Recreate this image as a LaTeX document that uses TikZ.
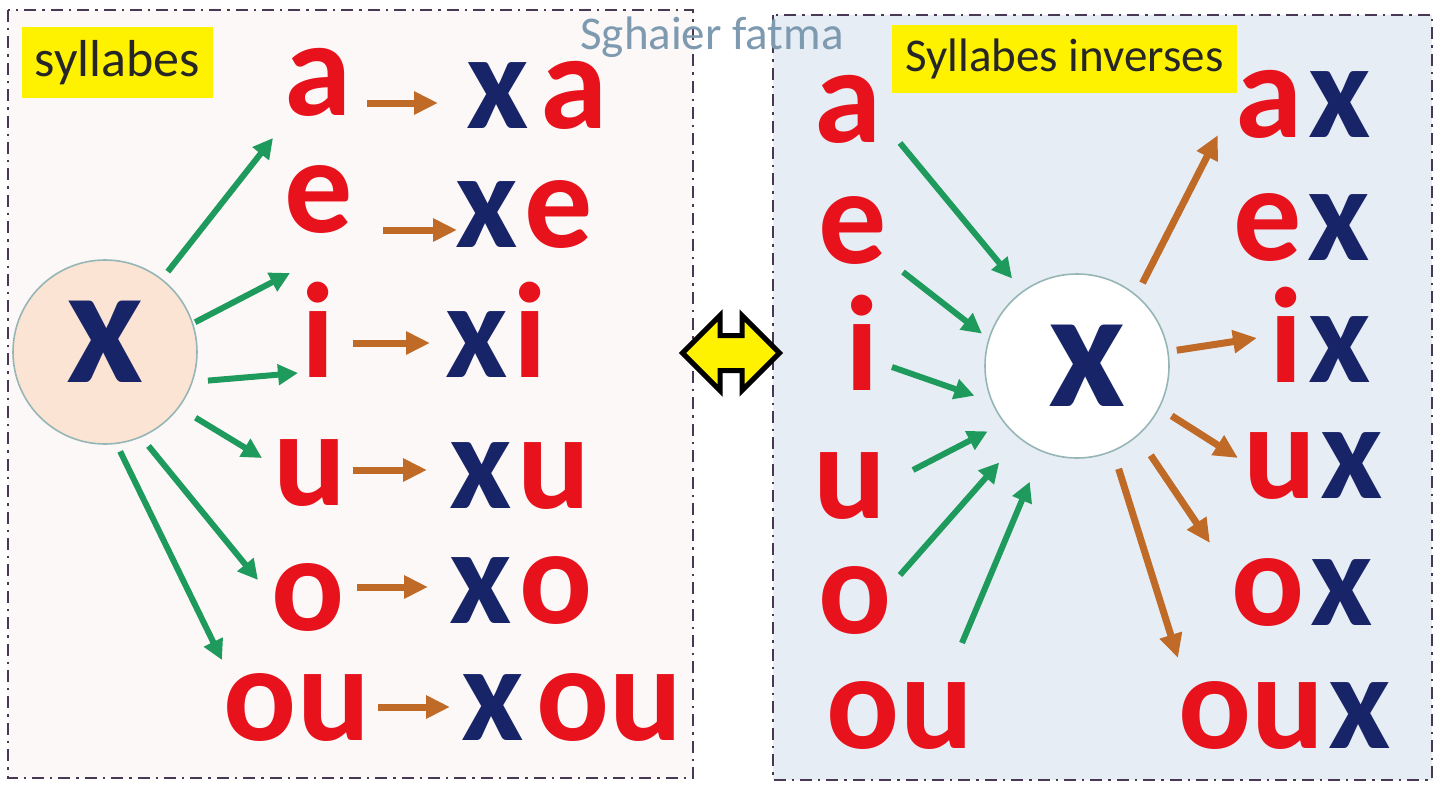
\documentclass[tikz,border=0pt]{standalone}
\usepackage{fontspec}
\setmainfont{Carlito}
\usepackage{xcolor}
\usetikzlibrary{arrows.meta}

\definecolor{vred}{RGB}{232,18,28}
\definecolor{xblue}{RGB}{24,36,104}
\definecolor{agreen}{RGB}{30,155,92}
\definecolor{aorange}{RGB}{192,106,40}
\definecolor{leftbg}{RGB}{253,248,248}
\definecolor{rightbg}{RGB}{231,237,245}
\definecolor{framecol}{RGB}{72,56,84}
\definecolor{peach}{RGB}{251,228,212}
\definecolor{ringcol}{RGB}{150,182,182}
\definecolor{authorcol}{RGB}{125,154,176}

\newcommand\sylfont{\fontsize{68}{68}\selectfont\bfseries}
\newcommand\xb{\textcolor{xblue}{x}}

\begin{document}
\begin{tikzpicture}[x=0.5pt, y=-0.5pt,
    % Setting up styles here keeps the drawing code clean
    syl/.style = {font=\sylfont, text=vred, inner sep=0pt, anchor=base},
    hub/.style = {circle, draw=ringcol, line width=0.8pt, minimum size=92pt, inner sep=0pt, outer sep=0pt, font=\fontsize{84}{84}\selectfont\bfseries, text=xblue},
    tag/.style = {fill=yellow, inner sep=0pt, text=black!85},
    frame/.style = {draw=framecol, line width=1pt, dash pattern=on 6pt off 3pt on 1.2pt off 3pt},
    garr/.style = {draw=agreen, line width=3pt, -{Triangle[length=10pt,width=10pt]}},
    oarr/.style = {draw=aorange, line width=3.5pt, -{Triangle[length=12pt,width=11pt]}}
]
    \useasboundingbox (0,0) rectangle (1437,793);
    \fill[white] (0,0) rectangle (1437,793);

    % 1. The two dash-dotted panels
    \draw[frame, fill=leftbg] (8,10) rectangle (693,778);
    \draw[frame, fill=rightbg] (773,15) rectangle (1432,780);

    % 2. Yellow titles
    \node (titleL) [tag, minimum width=95.5pt, minimum height=35.5pt, font=\fontsize{26}{26}\selectfont] at (117.5,62.5) {syllabes};
    \node (titleR) [tag, minimum width=172.5pt, minimum height=34pt, font=\fontsize{23.5}{23.5}\selectfont] at (1064.5,59) {Syllabes inverses};

    % 3. Consonant hubs and the swap arrow between the panels
    \node (Lx) [hub, fill=peach, text depth=10pt] at (105,352) {x};
    \node (Rx) [hub, fill=white] at (1077,366) {\hspace{10pt}x};
    \draw[fill=yellow, line width=2.5pt, line join=miter]
        (682.5,353) -- (720,315.5) -- (720,335.5) -- (742,335.5) -- (742,315.5)
        -- (779.5,353) -- (742,390.5) -- (742,370.5) -- (720,370.5) -- (720,390.5) -- cycle;

    % 4. Left panel: vowels and syllables
    \node (La)  [syl] at (318,115) {a};
    \node (Le)  [syl] at (319,232) {e};
    \node (Li)  [syl] at (318,377) {i};
    \node (Lu)  [syl] at (310,505) {u};
    \node (Lo)  [syl] at (308,630) {o};
    \node (Lou) [syl] at (297,740) {ou};

    \node (xa)  [syl] at (537,128) {\xb\hspace{6pt}a};
    \node (xe)  [syl] at (524,247) {\xb\hspace{3pt}e};
    \node (xi)  [syl] at (496,377) {\xb\hspace{3pt}i};
    \node (xu)  [syl] at (520,508) {\xb\hspace{3pt}u};
    \node (xo)  [syl] at (521,623) {\xb\hspace{4pt}o};
    \node (xou) [syl] at (572,740) {\xb\hspace{6pt}ou};

    % 5. Right panel: vowels and inverse syllables
    \node (Ra)  [syl] at (848,142) {a};
    \node (Re)  [syl] at (853,263) {e};
    \node (Ri)  [syl] at (862,390) {i};
    \node (Ru)  [syl] at (850,518) {u};
    \node (Ro)  [syl] at (855,633) {o};
    \node (Rou) [syl] at (900,748) {ou};

    \node (ax)  [syl] at (1303,137) {a\hspace{3pt}\xb};
    \node (ex)  [syl] at (1302,260) {e\hspace{3pt}\xb};
    \node (ix)  [syl] at (1320,382) {i\hspace{3pt}\xb};
    \node (ux)  [syl] at (1313,498) {u\hspace{2pt}\xb};
    \node (ox)  [syl] at (1302,625) {o\hspace{3pt}\xb};
    \node (oux) [syl] at (1285,748) {ou\hspace{2pt}\xb};

    % 6. Left panel arrows
    \draw[garr, shorten <=5pt]   (Lx.52)  -- ([shift={(-45,23)}]La.base);
    \draw[garr, shorten <=1.5pt] (Lx.18)  -- ([shift={(-29,41)}]Le.base);
    \draw[garr, shorten <=8pt]   (Lx.-19) -- ([shift={(-20,-4)}]Li.base);
    \draw[garr, shorten <=10pt]  (Lx.-37) -- ([shift={(-48,-47)}]Lu.base);
    \draw[garr, shorten <=6pt]   (Lx.-67) -- ([shift={(-50,-50)}]Lo.base);
    \draw[garr, shorten <=4.5pt] (Lx.-83) -- ([shift={(-75,-80)}]Lou.base);

    \draw[oarr] ([shift={(49,-12)}]La.base)  -- ([shift={(-99,-25)}]xa.base);
    \draw[oarr] ([shift={(64,-2)}]Le.base)   -- ([shift={(-67,-17)}]xe.base);
    \draw[oarr] ([shift={(35,-34)}]Li.base)  -- ([shift={(-66,-34)}]xi.base);
    \draw[oarr] ([shift={(43,-35)}]Lu.base)  -- ([shift={(-93,-38)}]xu.base);
    \draw[oarr] ([shift={(49,-43)}]Lo.base)  -- ([shift={(-93,-36)}]xo.base);
    \draw[oarr] ([shift={(81,-33)}]Lou.base) -- ([shift={(-122,-33)}]xou.base);

    % 7. Right panel arrows
    \draw[garr, shorten >=8.5pt]  ([shift={(52,1)}]Ra.base)    -- (Rx.126);
    \draw[garr, shorten >=4.5pt]  ([shift={(50,9)}]Re.base)    -- (Rx.163);
    \draw[garr, shorten >=9.5pt]  ([shift={(30,-23)}]Ri.base)  -- (Rx.-157);
    \draw[garr, shorten >=9.5pt]  ([shift={(63,-48)}]Ru.base)  -- (Rx.-142);
    \draw[garr, shorten >=16pt]   ([shift={(45,-58)}]Ro.base)  -- (Rx.-128);
    \draw[garr, shorten >=16.5pt] ([shift={(62,-105)}]Rou.base) -- (Rx.-112);

    \draw[oarr, shorten <=7pt]   (Rx.50)  -- ([shift={(-85,-2)}]ax.base);
    \draw[oarr, shorten <=4.5pt] (Rx.9)   -- ([shift={(-63,-44)}]ix.base);
    \draw[oarr, shorten <=7.5pt] (Rx.-27) -- ([shift={(-75,-40)}]ux.base);
    \draw[oarr, shorten <=12pt]  (Rx.-49) -- ([shift={(-92,-82)}]ox.base);
    \draw[oarr, shorten <=9.5pt] (Rx.-67) -- ([shift={(-107,-90)}]oux.base);

    % 8. Author name across the gap
    \node (author) [font=\fontsize{23.5}{23.5}\selectfont, text=authorcol] at (712,37) {Sghaier fatma};

\end{tikzpicture}
\end{document}
